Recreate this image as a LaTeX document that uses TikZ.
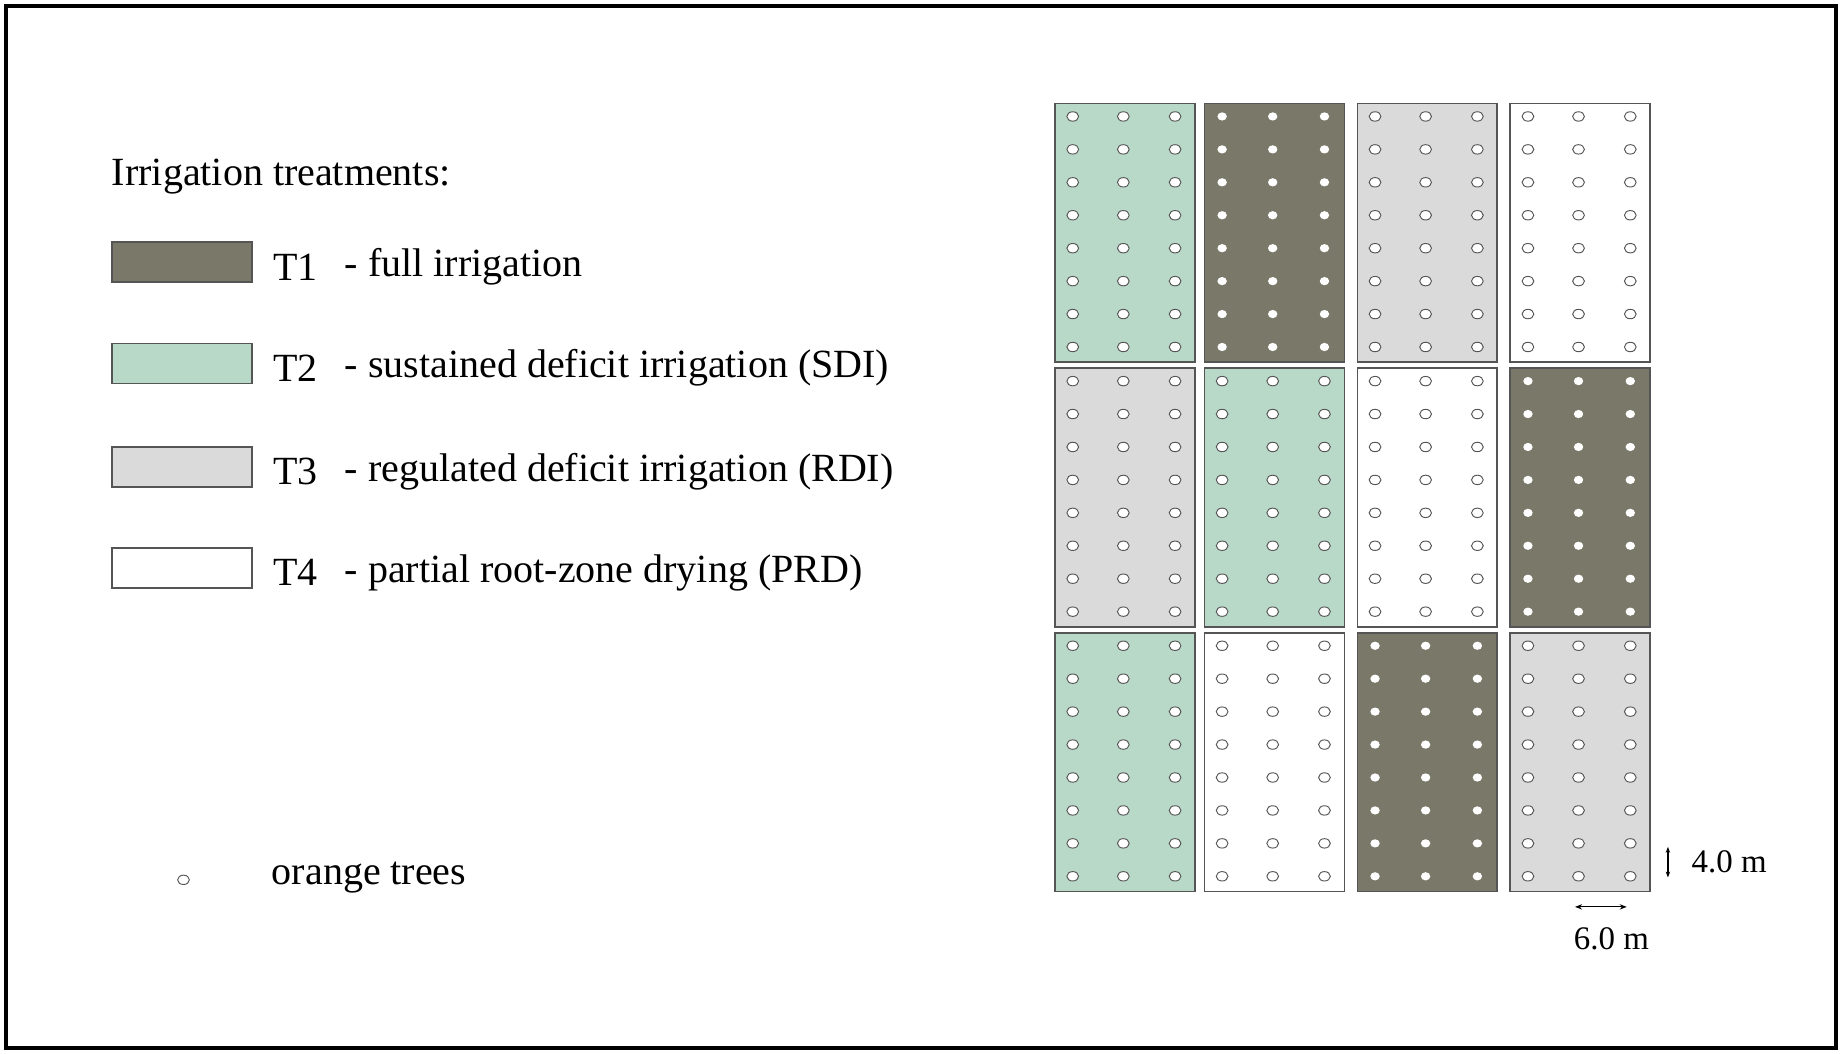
\documentclass[tikz,border=0pt]{standalone}
\usepackage{fontspec}
\setmainfont{Liberation Serif}
\usetikzlibrary{arrows.meta}
\definecolor{tone}{HTML}{7A7868}
\definecolor{ttwo}{HTML}{B8D8C8}
\definecolor{tthree}{HTML}{DADADA}
\definecolor{tfour}{HTML}{FFFFFF}
\definecolor{edge}{HTML}{555555}
\tikzset{
 txt/.style={font=\fontsize{34}{40}\selectfont, anchor=west, inner sep=0},
 sw/.style={draw=edge, line width=1.5pt},
 tree/.style={draw=edge, line width=0.8pt, fill=white},
 dot/.style={fill=white, draw=none},
}
\begin{document}
\begin{tikzpicture}[x=1pt,y=-1pt]
\useasboundingbox (0,0) rectangle (1566,896);
\draw[line width=3pt] (5,5) rectangle (1561,891);
\node[txt] (title) at (95,150) {Irrigation treatments:};
\foreach \c/\t/\d/\y [count=\i] in {tone/T1/full irrigation/223, ttwo/T2/sustained deficit irrigation (SDI)/309, tthree/T3/regulated deficit irrigation (RDI)/397, tfour/T4/partial root-zone drying (PRD)/483}{
  \draw[sw, fill=\c] (95,\y-17) rectangle (214,\y+17);
  \node[txt] (lab\i) at (232,\y+4) {\t};
  \node[txt] (desc\i) at (293,\y+4) {- \d};
}
\draw[tree] (156,748) ellipse (5 and 4);
\node[txt] (otrees) at (231,746) {orange trees};
% grid
\foreach \r/\ya in {1/88,2/313,3/538}{
 \foreach \cc/\xa in {1/897,2/1024,3/1154,4/1284}{
  \pgfmathtruncatemacro{\k}{(\r-1)*4+\cc}
  \ifcase\k\or\def\col{ttwo}\or\def\col{tone}\or\def\col{tthree}\or\def\col{tfour}%
  \or\def\col{tthree}\or\def\col{ttwo}\or\def\col{tfour}\or\def\col{tone}%
  \or\def\col{ttwo}\or\def\col{tfour}\or\def\col{tone}\or\def\col{tthree}\fi
  \draw[sw, fill=\col] (\xa,\ya) rectangle (\xa+119,\ya+220);
  \foreach \tx in {15,58,102}{
   \foreach \ty in {0,...,7}{
    \ifx\col\tonename
    \fi
    \edef\tmp{\col}%
    \def\tonestr{tone}%
    \ifx\tmp\tonestr
      \fill[white] (\xa+\tx,\ya+11+28*\ty) ellipse (4 and 3.5);
    \else
      \draw[tree] (\xa+\tx,\ya+11+28*\ty) ellipse (5 and 4);
    \fi
   }
  }
 }
}
\coordinate (va) at (1418,720);
\coordinate (vb) at (1418,746);
\draw[-{Stealth[length=5pt]}, line width=1pt] (1418,733) -- (va);
\draw[-{Stealth[length=5pt]}, line width=1pt] (1418,733) -- (vb);
\node[txt, font=\fontsize{28}{32}\selectfont] (four) at (1438,733) {4.0 m};
\coordinate (ha) at (1339,771);
\coordinate (hb) at (1383,771);
\draw[{Stealth[length=6pt]}-{Stealth[length=6pt]}, line width=1pt] (ha) -- (hb);
\node[txt, font=\fontsize{28}{32}\selectfont, anchor=center] (six) at (1370,798) {6.0 m};
\end{tikzpicture}
\end{document}
